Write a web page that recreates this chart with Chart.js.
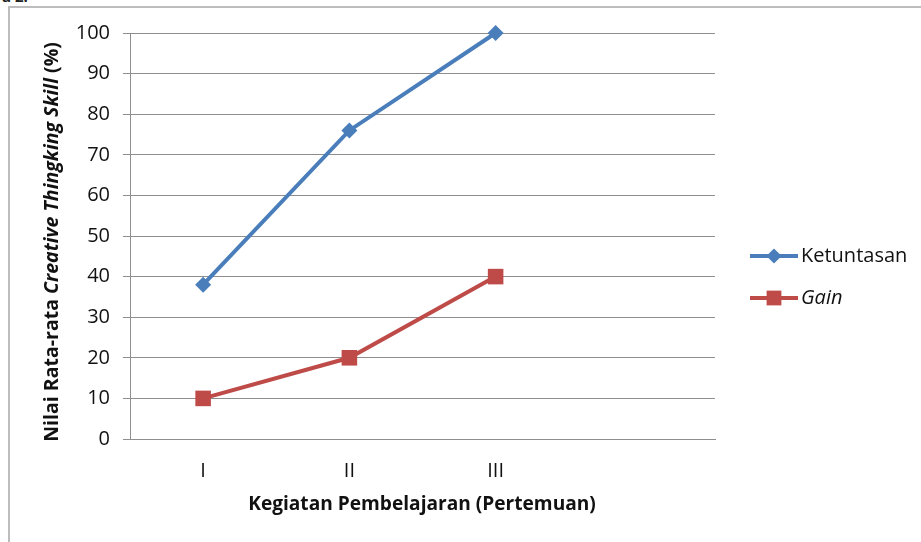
<!DOCTYPE html>
<html>
<head>
<meta charset="utf-8">
<script src="https://cdn.jsdelivr.net/npm/chart.js@4"></script>
<style>
  html, body { margin: 0; padding: 0; background: #fff; }
  #wrap { position: relative; width: 921px; height: 542px; overflow: hidden; }
  #frame { position: absolute; left: 8px; top: 6px; width: 940px; height: 560px;
           border-left: 2px solid #bdbdbd; border-top: 2px solid #bdbdbd; }
  #cap { position: absolute; left: 2px; top: -14px; font: bold 15px "Open Sans", sans-serif; color: #222; }
  canvas { position: absolute; left: 0; top: 0; }
</style>
</head>
<body>
<div id="wrap">
  <div id="cap">a 2.</div>
  <div id="frame"></div>
  <canvas id="chart" width="921" height="542"></canvas>
</div>
<script>
// chart data
const pertemuan = ["I", "II", "III", ""];
const ketuntasan = [38, 76, 100, null];
const gain = [10, 20, 40, null];
const yTicks = [0, 10, 20, 30, 40, 50, 60, 70, 80, 90, 100];

const FONT = '"Open Sans", "Noto Sans", sans-serif';

// the original font is narrower, so size text runs to the width they take there
function fitSize(ctx, parts, target) {
    let w = 0;
    parts.forEach(p => { ctx.font = p.style + " 20px " + FONT; w += ctx.measureText(p.t).width; });
    return 20 * target / w;
}

function drawRuns(ctx, parts, size) {
    let total = 0;
    parts.forEach(p => { ctx.font = p.style + " " + size + "px " + FONT; p.w = ctx.measureText(p.t).width; total += p.w; });
    let x = -total / 2;
    parts.forEach(p => { ctx.font = p.style + " " + size + "px " + FONT; ctx.fillText(p.t, x, 0); x += p.w; });
}

// axis titles (y title mixes bold and bold italic)
const axisTitles = {
    id: "axisTitles",
    afterDraw(chart) {
        const ctx = chart.ctx;
        const yParts = [
            { t: "Nilai Rata-rata ", style: "bold" },
            { t: "Creative Thingking Skill", style: "italic bold" },
            { t: " (%)", style: "bold" }
        ];
        ctx.save();
        const ys = Math.min(fitSize(ctx, yParts, 400), 20);
        ctx.translate(52, 242);
        ctx.rotate(-Math.PI / 2);
        ctx.fillStyle = "#111";
        ctx.textBaseline = "middle";
        drawRuns(ctx, yParts, ys);
        ctx.restore();

        const xParts = [{ t: "Kegiatan Pembelajaran (Pertemuan)", style: "bold" }];
        ctx.save();
        const xs = Math.min(fitSize(ctx, xParts, 348), 20);
        ctx.translate(422, 505);
        ctx.fillStyle = "#111";
        ctx.textBaseline = "middle";
        drawRuns(ctx, xParts, xs);
        ctx.restore();
    }
};

// legend with the marker sitting on the line, Excel style
const sideLegend = {
    id: "sideLegend",
    afterDraw(chart) {
        const ctx = chart.ctx;
        const rows = [256, 298];
        chart.data.datasets.forEach((ds, i) => {
            const y = rows[i];
            ctx.save();
            ctx.strokeStyle = ds.borderColor;
            ctx.lineWidth = ds.borderWidth;
            ctx.beginPath();
            ctx.moveTo(750, y);
            ctx.lineTo(798, y);
            ctx.stroke();
            ctx.fillStyle = ds.pointBackgroundColor;
            Chart.helpers.drawPoint(ctx, {
                pointStyle: ds.pointStyle,
                radius: ds.pointRadius * 0.95,
                rotation: 0,
                borderWidth: 0
            }, 774, y);
            ctx.fillStyle = "#111";
            ctx.font = (ds.italic ? "italic " : "") + "20px " + FONT;
            ctx.textBaseline = "middle";
            ctx.fillText(ds.label, 801, y);
            ctx.restore();
        });
    }
};

new Chart(document.getElementById("chart"), {
    type: "line",
    data: {
        labels: pertemuan,
        datasets: [
            {
                label: "Ketuntasan",
                data: ketuntasan,
                borderColor: "#4a7ebb",
                backgroundColor: "#4a7ebb",
                pointBackgroundColor: "#4a7ebb",
                pointBorderWidth: 0,
                pointStyle: "rectRot",
                pointRadius: 8,
                borderWidth: 4,
                tension: 0,
                clip: false
            },
            {
                label: "Gain",
                italic: true,
                data: gain,
                borderColor: "#be4b48",
                backgroundColor: "#be4b48",
                pointBackgroundColor: "#be4b48",
                pointBorderWidth: 0,
                pointStyle: "rect",
                pointRadius: 11,
                borderWidth: 4,
                tension: 0,
                clip: false
            }
        ]
    },
    options: {
        responsive: false,
        animation: false,
        devicePixelRatio: 1,
        layout: {
            padding: { left: 0, top: 33, right: 206, bottom: 0 }
        },
        plugins: {
            legend: { display: false },
            tooltip: { enabled: false }
        },
        scales: {
            x: {
                offset: true,
                afterFit: function(scale) { scale.height = 103; },
                ticks: {
                    font: { size: 20, family: FONT },
                    color: "#111",
                    padding: 12,
                    maxRotation: 0
                },
                grid: { display: false },
                border: { display: true, color: "#8e8e8e", width: 1 }
            },
            y: {
                min: 0,
                max: 100,
                afterFit: function(scale) { scale.width = 130; },
                afterBuildTicks: function(scale) {
                    scale.ticks = yTicks.map(v => ({ value: v }));
                },
                ticks: {
                    font: { size: 20, family: FONT },
                    color: "#111",
                    padding: 13
                },
                grid: {
                    color: "#8e8e8e",
                    lineWidth: 1,
                    tickLength: 7
                },
                border: { display: true, color: "#8e8e8e", width: 1 }
            }
        }
    },
    plugins: [axisTitles, sideLegend]
});
</script>
</body>
</html>
